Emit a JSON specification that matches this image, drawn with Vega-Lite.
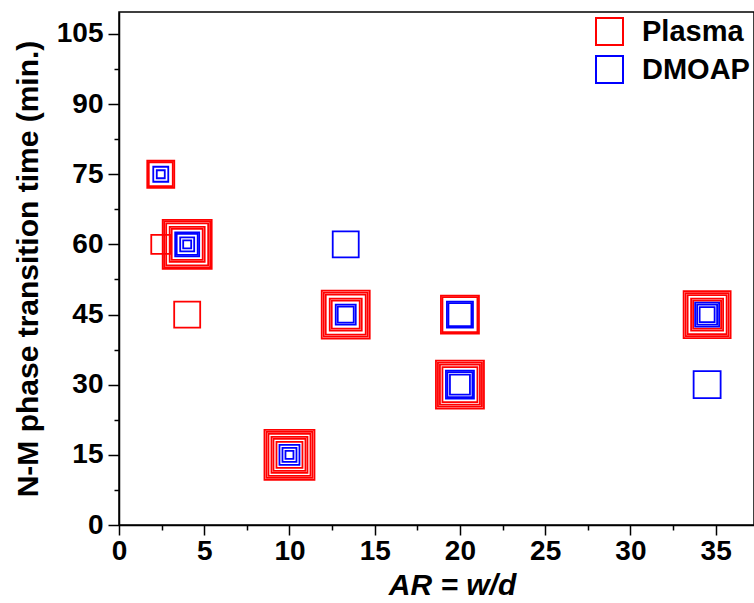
{
  "$schema": "https://vega.github.io/schema/vega-lite/v6.json",
  "width": 635,
  "height": 513,
  "autosize": "none",
  "padding": {"left": 119, "top": 12, "right": 0, "bottom": 78},
  "background": "white",
  "config": {
    "view": {"stroke": "black", "strokeWidth": 1.5},
    "font": "Liberation Sans",
    "axis": {
      "domainColor": "black", "domainWidth": 1.5, "tickColor": "black", "tickWidth": 1.5,
      "grid": false, "labelFont": "Liberation Sans", "labelFontSize": 28, "labelFontWeight": "bold",
      "labelColor": "black", "titleFont": "Liberation Sans", "titleFontSize": 30, "titleFontWeight": "bold",
      "titleColor": "black", "labelOverlap": false, "labelFlush": false, "labelBound": false
    }
  },
  "data": {"values": [
    {"AR": 2.45, "time": 75, "coating": "Plasma", "s": 27},
    {"AR": 2.45, "time": 75, "coating": "Plasma", "s": 24},
    {"AR": 2.45, "time": 60, "coating": "Plasma", "s": 19},
    {"AR": 4, "time": 60, "coating": "Plasma", "s": 49},
    {"AR": 4, "time": 60, "coating": "Plasma", "s": 46},
    {"AR": 4, "time": 60, "coating": "Plasma", "s": 42},
    {"AR": 4, "time": 60, "coating": "Plasma", "s": 35},
    {"AR": 4, "time": 60, "coating": "Plasma", "s": 31},
    {"AR": 4, "time": 45, "coating": "Plasma", "s": 26},
    {"AR": 10, "time": 15, "coating": "Plasma", "s": 50},
    {"AR": 10, "time": 15, "coating": "Plasma", "s": 46},
    {"AR": 10, "time": 15, "coating": "Plasma", "s": 42},
    {"AR": 10, "time": 15, "coating": "Plasma", "s": 36},
    {"AR": 10, "time": 15, "coating": "Plasma", "s": 32},
    {"AR": 10, "time": 15, "coating": "Plasma", "s": 26},
    {"AR": 13.3, "time": 45, "coating": "Plasma", "s": 48},
    {"AR": 13.3, "time": 45, "coating": "Plasma", "s": 44},
    {"AR": 13.3, "time": 45, "coating": "Plasma", "s": 40},
    {"AR": 13.3, "time": 45, "coating": "Plasma", "s": 32},
    {"AR": 13.3, "time": 45, "coating": "Plasma", "s": 28},
    {"AR": 20, "time": 45, "coating": "Plasma", "s": 38},
    {"AR": 20, "time": 45, "coating": "Plasma", "s": 35},
    {"AR": 20, "time": 30, "coating": "Plasma", "s": 48},
    {"AR": 20, "time": 30, "coating": "Plasma", "s": 44},
    {"AR": 20, "time": 30, "coating": "Plasma", "s": 40},
    {"AR": 20, "time": 30, "coating": "Plasma", "s": 35},
    {"AR": 34.5, "time": 45, "coating": "Plasma", "s": 47},
    {"AR": 34.5, "time": 45, "coating": "Plasma", "s": 43},
    {"AR": 34.5, "time": 45, "coating": "Plasma", "s": 39},
    {"AR": 34.5, "time": 45, "coating": "Plasma", "s": 32},
    {"AR": 34.5, "time": 45, "coating": "Plasma", "s": 28},
    {"AR": 2.45, "time": 75, "coating": "DMOAP", "s": 15},
    {"AR": 2.45, "time": 75, "coating": "DMOAP", "s": 8},
    {"AR": 4, "time": 60, "coating": "DMOAP", "s": 24},
    {"AR": 4, "time": 60, "coating": "DMOAP", "s": 21},
    {"AR": 4, "time": 60, "coating": "DMOAP", "s": 14},
    {"AR": 4, "time": 60, "coating": "DMOAP", "s": 8},
    {"AR": 10, "time": 15, "coating": "DMOAP", "s": 20},
    {"AR": 10, "time": 15, "coating": "DMOAP", "s": 14},
    {"AR": 10, "time": 15, "coating": "DMOAP", "s": 8},
    {"AR": 13.3, "time": 60, "coating": "DMOAP", "s": 26},
    {"AR": 13.3, "time": 45, "coating": "DMOAP", "s": 20},
    {"AR": 13.3, "time": 45, "coating": "DMOAP", "s": 16},
    {"AR": 20, "time": 45, "coating": "DMOAP", "s": 26},
    {"AR": 20, "time": 45, "coating": "DMOAP", "s": 23},
    {"AR": 20, "time": 30, "coating": "DMOAP", "s": 28},
    {"AR": 20, "time": 30, "coating": "DMOAP", "s": 25},
    {"AR": 20, "time": 30, "coating": "DMOAP", "s": 20},
    {"AR": 34.5, "time": 45, "coating": "DMOAP", "s": 24},
    {"AR": 34.5, "time": 45, "coating": "DMOAP", "s": 20},
    {"AR": 34.5, "time": 45, "coating": "DMOAP", "s": 15},
    {"AR": 34.5, "time": 30, "coating": "DMOAP", "s": 27}
  ]},
  "mark": {"type": "point", "shape": "square", "filled": false, "strokeWidth": 1.8, "opacity": 1},
  "encoding": {
    "x": {
      "field": "AR", "type": "quantitative",
      "scale": {"domain": [0, 37.25], "nice": false, "zero": false},
      "axis": {
        "values": [0, 2.5, 5, 7.5, 10, 12.5, 15, 17.5, 20, 22.5, 25, 27.5, 30, 32.5, 35],
        "labelExpr": "datum.value % 5 === 0 ? datum.label : ''",
        "tickSize": {"condition": {"test": "datum.value % 5 === 0", "value": 10}, "value": 5},
        "labelPadding": 2,
        "title": "AR = w/d",
        "titleFontStyle": "italic",
        "titlePadding": 5,
        "titleX": 333
      }
    },
    "y": {
      "field": "time", "type": "quantitative",
      "scale": {"domain": [0, 109.7], "nice": false, "zero": false},
      "axis": {
        "values": [0, 7.5, 15, 22.5, 30, 37.5, 45, 52.5, 60, 67.5, 75, 82.5, 90, 97.5, 105],
        "labelExpr": "datum.value % 15 === 0 ? datum.label : ''",
        "tickSize": {"condition": {"test": "datum.value % 15 === 0", "value": 11}, "value": 5},
        "labelPadding": 5,
        "title": "N-M phase transition time (min.)",
        "titlePadding": 13
      }
    },
    "color": {
      "field": "coating", "type": "nominal",
      "scale": {"domain": ["Plasma", "DMOAP"], "range": ["#ff0000", "#0000ff"]},
      "legend": {
        "orient": "none", "legendX": 476, "legendY": 5, "title": null,
        "symbolType": "square", "symbolSize": 729, "symbolStrokeWidth": 2,
        "labelFont": "Liberation Sans", "labelFontSize": 29, "labelFontWeight": "bold",
        "labelColor": "black", "labelOffset": 18, "rowPadding": 3
      }
    },
    "size": {
      "field": "s", "type": "quantitative",
      "scale": {"type": "pow", "exponent": 2, "domain": [0, 60], "range": [0, 3600]},
      "legend": null
    }
  }
}
